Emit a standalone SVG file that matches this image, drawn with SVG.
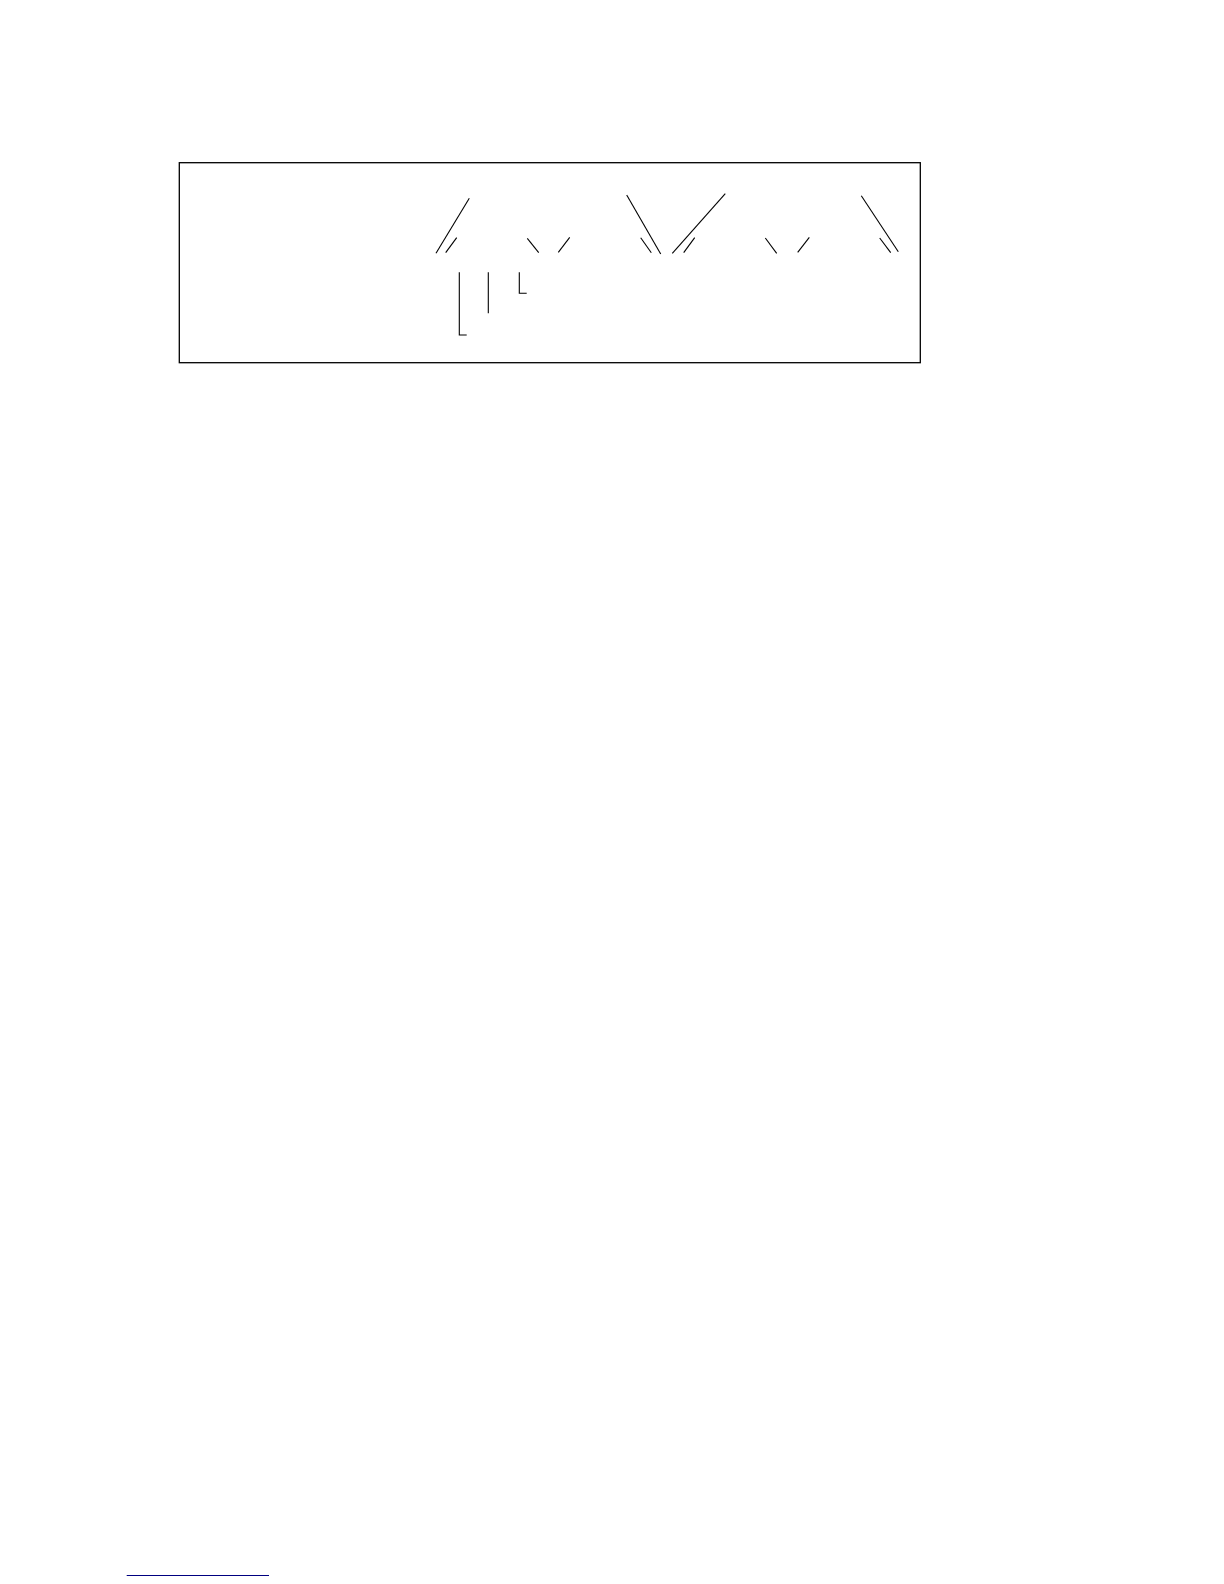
<svg xmlns="http://www.w3.org/2000/svg" width="1224" height="1584" viewBox="0 0 1224 1584">
<style>
.ln{stroke:#000;stroke-width:1.1;fill:none;stroke-linecap:butt}
.box{stroke:#000;stroke-width:1.3;fill:#fff}
</style>
<rect width="1224" height="1584" fill="#fff"/>
<g id="frame">
<rect class="box" x="179.3" y="162.7" width="741" height="200"/>
</g>
<g id="connectors">
<line class="ln" x1="469.3" y1="198.3" x2="436" y2="253.3"/>
<line class="ln" x1="456.7" y1="237.7" x2="445.7" y2="252.7"/>
<line class="ln" x1="527.3" y1="238.3" x2="538.7" y2="252.7"/>
<line class="ln" x1="569.7" y1="237.3" x2="558.3" y2="252.3"/>
<line class="ln" x1="626.7" y1="195" x2="660.7" y2="254"/>
<line class="ln" x1="640.7" y1="237.7" x2="651.3" y2="252.7"/>
<line class="ln" x1="725.3" y1="193.7" x2="672.3" y2="253.3"/>
<line class="ln" x1="694.7" y1="237.7" x2="683.7" y2="252.7"/>
<line class="ln" x1="765.3" y1="238" x2="776.7" y2="253.3"/>
<line class="ln" x1="809.3" y1="237.3" x2="797.7" y2="252.3"/>
<line class="ln" x1="861.3" y1="195.7" x2="898.3" y2="251.7"/>
<line class="ln" x1="879.7" y1="238" x2="890.7" y2="252.7"/>
<polyline class="ln" points="459.3,272.3 459.3,335 466.7,335"/>
<line class="ln" x1="488.3" y1="272.3" x2="488.3" y2="313.3"/>
<polyline class="ln" points="519.3,272.3 519.3,293.3 526.7,293.3"/>
</g>
<g id="footer">
<line x1="126.7" y1="1575.5" x2="269" y2="1575.5" stroke="#000080" stroke-width="1"/>
</g>
</svg>
